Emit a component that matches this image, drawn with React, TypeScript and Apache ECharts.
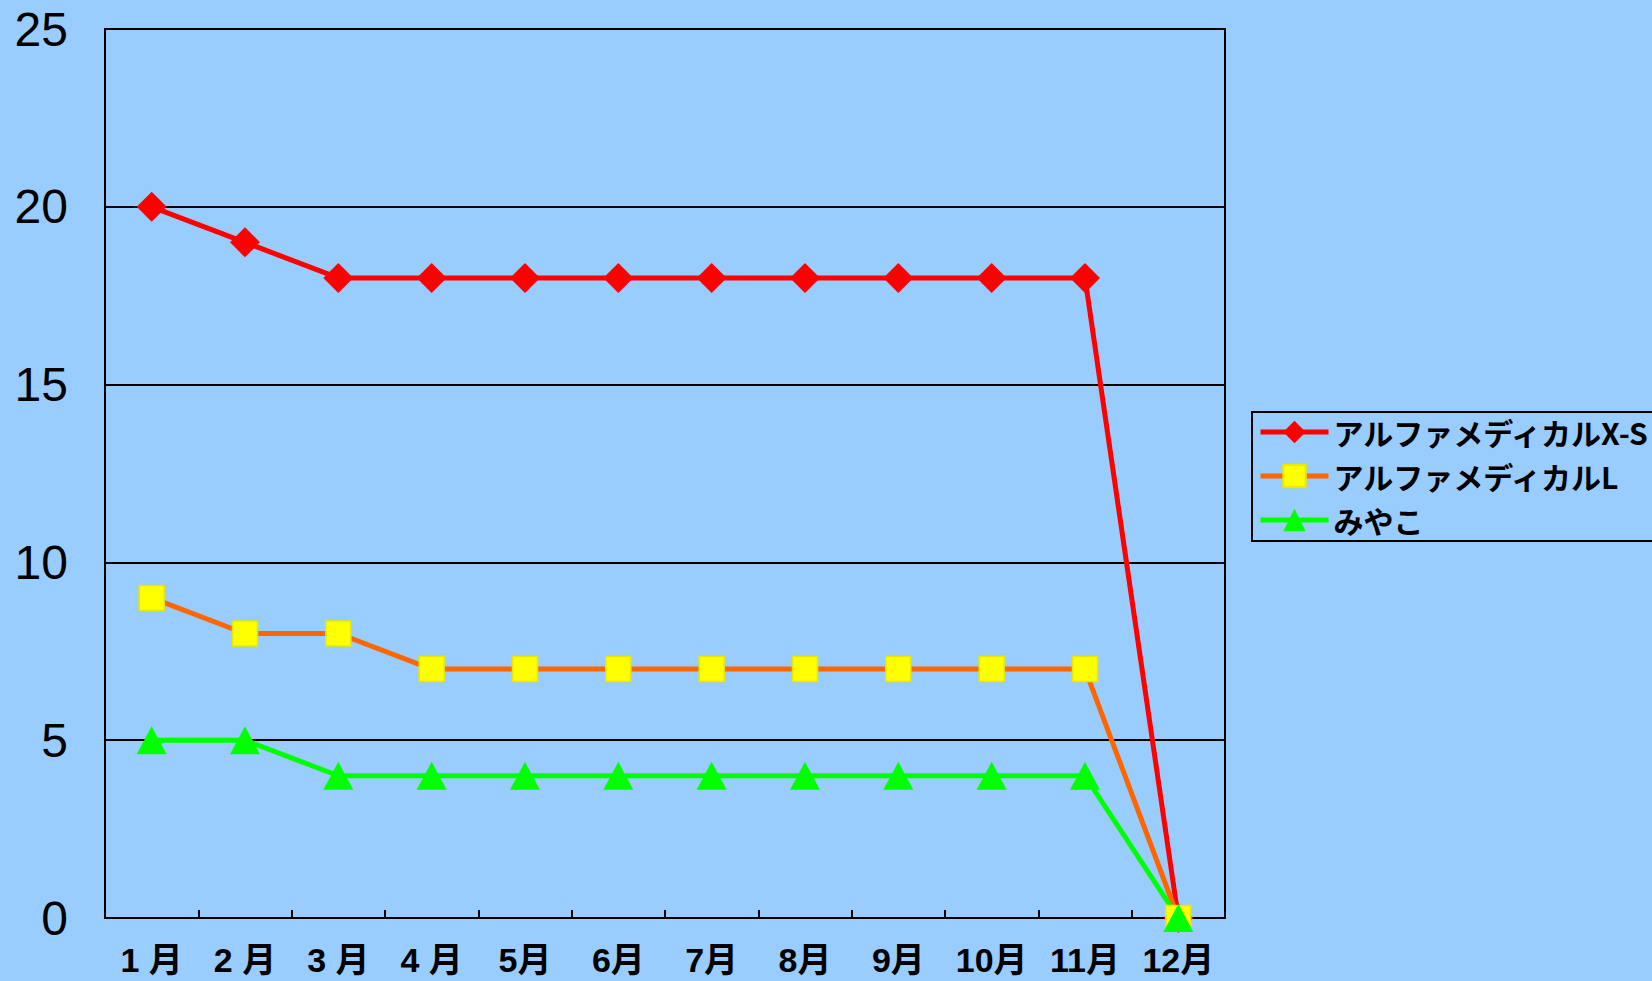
import React, { useEffect, useRef } from "react";
import * as echarts from "echarts";

const months = ["1 月", "2 月", "3 月", "4 月", "5月", "6月", "7月", "8月", "9月", "10月", "11月", "12月"];
const seriesNames = ["アルファメディカルX-S", "アルファメディカルL", "みやこ"];
const xsValues = [20, 19, 18, 18, 18, 18, 18, 18, 18, 18, 18, 0];
const lValues = [9, 8, 8, 7, 7, 7, 7, 7, 7, 7, 7, 0];
const miyakoValues = [5, 5, 4, 4, 4, 4, 4, 4, 4, 4, 4, 0];
const yTicks = { min: 0, max: 25, interval: 5 };

export default function App() {
  const ref = useRef<HTMLDivElement>(null);
  useEffect(() => {
    if (!ref.current) return;
    const chart = echarts.init(ref.current, null, { renderer: "svg" });
    chart.setOption({
      animation: false,
      backgroundColor: "#99CCFF",
      grid: {
        left: 105,
        right: 427,
        top: 29,
        bottom: 63,
        show: true,
        borderColor: "#000",
        borderWidth: 2,
        backgroundColor: "#99CCFF",
      },
      graphic: [
        {
          type: "polyline",
          shape: {
            points: [
              [1700, 412],
              [1252, 412],
              [1252, 541],
              [1700, 541],
            ],
          },
          style: { fill: "none", stroke: "#000", lineWidth: 2 },
          silent: true,
        },
      ],
      legend: {
        orient: "vertical",
        left: 1252,
        top: 411,
        padding: [6, 0, 7, 6],
        itemGap: 14,
        itemWidth: 68,
        itemHeight: 28,
        backgroundColor: "transparent",
        borderColor: "transparent",
        borderWidth: 0,
        lineStyle: { width: 5 },
        textStyle: {
          fontFamily: "'Noto Sans CJK JP', sans-serif",
          fontWeight: "bold",
          fontSize: 30,
          color: "#000",
        },
        data: seriesNames,
      },
      xAxis: {
        type: "category",
        data: months,
        boundaryGap: true,
        axisLine: { show: true, lineStyle: { color: "#000", width: 2 } },
        axisTick: { show: true, inside: true, length: 8, lineStyle: { color: "#000", width: 2 } },
        axisLabel: {
          margin: 25,
          color: "#000",
          fontFamily: "'Liberation Sans Narrow', 'Liberation Sans', 'Noto Sans CJK JP', sans-serif",
          fontWeight: "bold",
          fontSize: 34,
          interval: 0,
        },
        splitLine: { show: false },
      },
      yAxis: {
        type: "value",
        min: yTicks.min,
        max: yTicks.max,
        interval: yTicks.interval,
        axisLine: { show: true, lineStyle: { color: "#000", width: 2 } },
        axisTick: { show: false },
        axisLabel: {
          margin: 37,
          color: "#000",
          fontFamily: "'Liberation Sans', Arial, sans-serif",
          fontSize: 48,
        },
        splitLine: { show: true, lineStyle: { color: "#000", width: 2 } },
      },
      series: [
        {
          name: seriesNames[0],
          type: "line",
          data: xsValues,
          symbol: "diamond",
          symbolSize: 30,
          showAllSymbol: true,
          lineStyle: { color: "#FF0000", width: 5 },
          itemStyle: { color: "#FF0000" },
        },
        {
          name: seriesNames[1],
          type: "line",
          data: lValues,
          symbol: "rect",
          symbolSize: 25,
          showAllSymbol: true,
          lineStyle: { color: "#FF6600", width: 5 },
          itemStyle: { color: "#FFFF00", borderColor: "#E8E800", borderWidth: 1.5 },
        },
        {
          name: seriesNames[2],
          type: "line",
          data: miyakoValues,
          symbol: "triangle",
          symbolSize: [30, 28],
          showAllSymbol: true,
          lineStyle: { color: "#00FF00", width: 5 },
          itemStyle: { color: "#00FF00" },
        },
      ],
    });
    return () => chart.dispose();
  }, []);
  return (
    <div
      ref={ref}
      style={{ position: "fixed", left: 0, top: 0, width: 1652, height: 981 }}
    />
  );
}
